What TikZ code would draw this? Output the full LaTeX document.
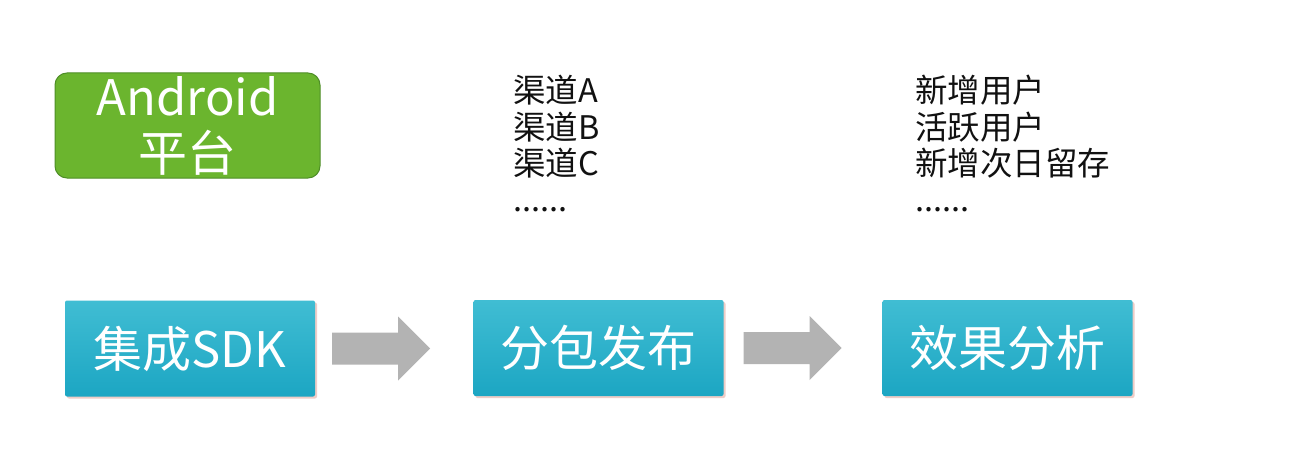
\documentclass[tikz,border=0pt]{standalone}
\usepackage{fontspec}
\setmainfont{Noto Sans CJK SC}
\usetikzlibrary{calc,shadows}
\definecolor{andgreen}{HTML}{6BB52E}
\definecolor{andborder}{HTML}{4E8E27}
\definecolor{tealtop}{HTML}{40BDD3}
\definecolor{tealbot}{HTML}{1CA6C3}
\definecolor{arrowgray}{HTML}{B3B3B3}
\definecolor{shadowpink}{HTML}{E8B9B0}
\definecolor{listtext}{HTML}{111111}
\begin{document}
\begin{tikzpicture}[x=1pt,y=-1pt,
  platbox/.style={draw=andborder, line width=1pt, fill=andgreen, rounded corners=12pt,
    minimum width=265pt, minimum height=105pt, inner sep=0pt, text=white, align=center,
    font=\fontsize{49}{52}\selectfont},
  flowbox/.style={rectangle, rounded corners=2pt, top color=tealtop, bottom color=tealbot,
    minimum width=250pt, minimum height=96pt, inner sep=0pt, text=white,
    font=\fontsize{49}{54}\selectfont,
    drop shadow={fill=shadowpink, opacity=0.7, shadow xshift=2pt, shadow yshift=-2pt}},
  listline/.style={anchor=west, inner sep=0pt, text=listtext, font=\fontsize{32.5}{37}\selectfont},
  flowarrow/.style={fill=arrowgray}
]
\useasboundingbox[fill=white] (0,0) rectangle (1296,476);

\node[platbox] (plat) at (187.5,125.5) {Android\\[4pt]平台};

\node[flowbox] (sdk) at (190,348.5) {集成SDK};
\node[flowbox] (pub) at (598.5,348) {分包发布};
\node[flowbox] (ana) at (1007.5,348) {效果分析};

% arrows between boxes
\fill[flowarrow] ($(sdk.east)+(17,-16)$) -- ++(66,0) -- ++(0,-16) -- ++(32,32) -- ++(-32,32) -- ++(0,-16) -- ++(-66,0) -- cycle;
\fill[flowarrow] ($(pub.east)+(20,-16)$) -- ++(66,0) -- ++(0,-16) -- ++(32,32) -- ++(-32,32) -- ++(0,-16) -- ++(-66,0) -- cycle;

% channel list
\node[listline] (ca) at (513,90) {渠道A};
\node[listline] (cb) at (513,127) {渠道B};
\node[listline] (cc) at (513,163) {渠道C};
\node[listline] (cd) at (513,210) {......};

% metric list
\node[listline] (ma) at (915,90) {新增用户};
\node[listline] (mb) at (915,127) {活跃用户};
\node[listline] (mc) at (915,163) {新增次日留存};
\node[listline] (md) at (915,210) {......};
\end{tikzpicture}
\end{document}
